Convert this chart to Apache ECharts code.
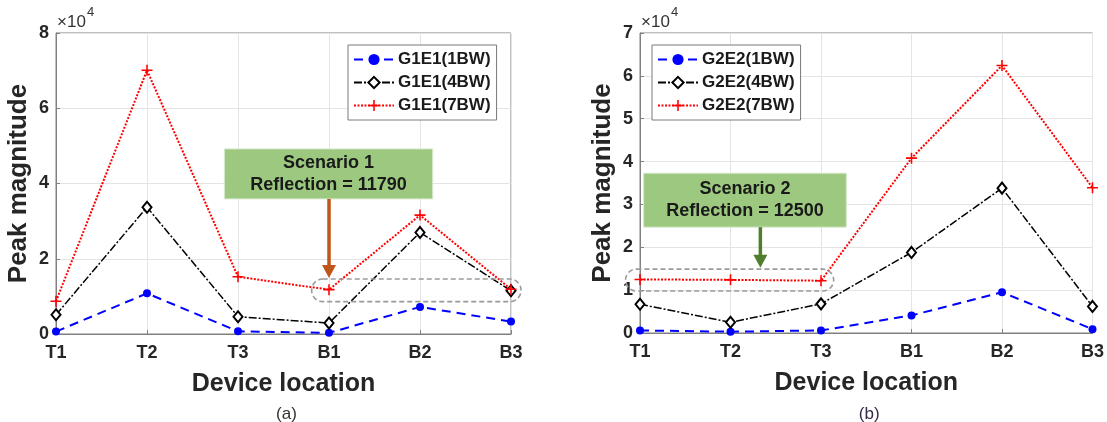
<!DOCTYPE html>
<html>
<head>
<meta charset="utf-8">
<script src="https://cdn.jsdelivr.net/npm/echarts@6/dist/echarts.min.js"></script>
<style>
  html, body { margin: 0; padding: 0; background: #ffffff; }
  #chart { width: 1107px; height: 422px; }
</style>
</head>
<body>
<div id="chart"></div>
<script>
// Device locations along the x axis (shared by both panels)
const categories = ['T1', 'T2', 'T3', 'B1', 'B2', 'B3'];

// Panel (a): G1E1 peak magnitudes
const g1e1_1bw = [650, 10800, 700, 300, 7200, 3300];
const g1e1_4bw = [5100, 33700, 4600, 2900, 27000, 11500];
const g1e1_7bw = [8700, 70100, 15200, 11790, 31600, 11900];

// Panel (b): G2E2 peak magnitudes
const g2e2_1bw = [600, 300, 600, 4100, 9500, 900];
const g2e2_4bw = [6700, 2500, 6800, 18800, 33800, 6200];
const g2e2_7bw = [12500, 12400, 12200, 40800, 62400, 33900];

// Y axis ticks (labels shown in units of 10^4)
const yTicksA = [0, 20000, 40000, 60000, 80000];
const yTicksB = [0, 10000, 20000, 30000, 40000, 50000, 60000, 70000];

// Annotation texts
const scenario1 = ['Scenario 1', 'Reflection = 11790'];
const scenario2 = ['Scenario 2', 'Reflection = 12500'];
const panelLabels = ['(a)', '(b)'];

const FONT = '"Liberation Sans", Arial, sans-serif';
const PLUS = 'path://M4.3,0H5.7V4.3H10V5.7H5.7V10H4.3V5.7H0V4.3H4.3Z';

const chart = echarts.init(document.getElementById('chart'), null, { renderer: 'canvas' });

function xAxisFor(gridIndex) {
  return {
    gridIndex: gridIndex,
    type: 'category',
    data: categories,
    boundaryGap: false,
    name: 'Device location',
    nameLocation: 'middle',
    nameGap: 38,
    nameTextStyle: { fontFamily: FONT, fontSize: 25, fontWeight: 'bold', color: '#262626' },
    axisLine: { show: true, lineStyle: { color: '#808080', width: 1 } },
    axisTick: { show: true, inside: true, length: 4, alignWithLabel: true, lineStyle: { color: '#808080' } },
    axisLabel: { fontFamily: FONT, fontSize: 18, fontWeight: 'bold', color: '#262626', margin: 10 },
    splitLine: { show: true, lineStyle: { color: '#e4e4e4', width: 1 } }
  };
}

function yAxisFor(gridIndex, ticks) {
  return {
    gridIndex: gridIndex,
    type: 'value',
    min: ticks[0],
    max: ticks[ticks.length - 1],
    interval: ticks[1] - ticks[0],
    name: 'Peak magnitude',
    nameLocation: 'middle',
    nameGap: 24,
    nameRotate: 90,
    nameTextStyle: { fontFamily: FONT, fontSize: 26, fontWeight: 'bold', color: '#262626' },
    axisLine: { show: true, lineStyle: { color: '#808080', width: 1 } },
    axisTick: { show: true, inside: true, length: 4, lineStyle: { color: '#808080' } },
    axisLabel: {
      fontFamily: FONT, fontSize: 18, fontWeight: 'bold', color: '#262626', margin: 7,
      formatter: v => String(v / 10000)
    },
    splitLine: { show: true, lineStyle: { color: '#e4e4e4', width: 1 } }
  };
}

function seriesSet(idx, names, d1, d4, d7) {
  return [
    {
      name: names[0], type: 'line', xAxisIndex: idx, yAxisIndex: idx, data: d1,
      symbol: 'circle', symbolSize: 8, z: 3,
      lineStyle: { color: '#0000ff', width: 2, type: [9, 6] },
      itemStyle: { color: '#0000ff' }
    },
    {
      name: names[1], type: 'line', xAxisIndex: idx, yAxisIndex: idx, data: d4,
      symbol: 'emptyDiamond', symbolSize: [9, 11], z: 4,
      lineStyle: { color: '#000000', width: 1.5, type: [8, 2, 2, 2] },
      itemStyle: { color: '#000000', borderColor: '#000000', borderWidth: 1.5 }
    },
    {
      name: names[2], type: 'line', xAxisIndex: idx, yAxisIndex: idx, data: d7,
      symbol: PLUS, symbolSize: 11, z: 5,
      lineStyle: { color: '#ff0000', width: 2, type: [2, 1.5] },
      itemStyle: { color: '#ff0000' }
    }
  ];
}

const namesA = ['G1E1(1BW)', 'G1E1(4BW)', 'G1E1(7BW)'];
const namesB = ['G2E2(1BW)', 'G2E2(4BW)', 'G2E2(7BW)'];

function legendFor(names, left) {
  return {
    data: names,
    orient: 'vertical',
    left: left,
    top: 45,
    itemWidth: 40,
    itemHeight: 14,
    itemGap: 6,
    padding: [6, 6, 6, 5],
    borderColor: '#7a7a7a',
    borderWidth: 1,
    backgroundColor: '#ffffff',
    selectedMode: false,
    textStyle: { fontFamily: FONT, fontSize: 17, fontWeight: 'bold', color: '#1a1a1a', padding: [0, 0, 0, -1] }
  };
}

chart.setOption({
  animation: false,
  backgroundColor: '#ffffff',
  grid: [
    { left: 56, top: 33, width: 455, height: 301, show: true, borderColor: '#808080', borderWidth: 1, backgroundColor: 'transparent' },
    { left: 640, top: 33, width: 455, height: 300, show: true, borderColor: '#808080', borderWidth: 1, backgroundColor: 'transparent' }
  ],
  xAxis: [xAxisFor(0), xAxisFor(1)],
  yAxis: [yAxisFor(0, yTicksA), yAxisFor(1, yTicksB)],
  legend: [legendFor(namesA, 348), legendFor(namesB, 652)],
  series: seriesSet(0, namesA, g1e1_1bw, g1e1_4bw, g1e1_7bw)
    .concat(seriesSet(1, namesB, g2e2_1bw, g2e2_4bw, g2e2_7bw))
});

// Data-space point to pixel for a panel; fractional category positions are
// interpolated between the first and last category ticks.
function px(panel, x, y) {
  const last = categories.length - 1;
  const p0 = chart.convertToPixel({ xAxisIndex: panel, yAxisIndex: panel }, [0, y]);
  const p1 = chart.convertToPixel({ xAxisIndex: panel, yAxisIndex: panel }, [last, y]);
  return [p0[0] + (p1[0] - p0[0]) * x / last, p0[1]];
}

function calloutBox(panel, x0, x1, yTop, yBottom, lines) {
  const a = px(panel, x0, yTop), b = px(panel, x1, yBottom);
  return [
    {
      type: 'rect', z: 20,
      shape: { x: a[0], y: a[1], width: b[0] - a[0], height: b[1] - a[1] },
      style: { fill: '#9cc97f', stroke: '#d9ead0', lineWidth: 1 }
    },
    {
      type: 'text', z: 21,
      x: (a[0] + b[0]) / 2, y: (a[1] + b[1]) / 2,
      style: {
        text: lines.join('\n'), align: 'center', verticalAlign: 'middle',
        fontFamily: FONT, fontSize: 18, fontWeight: 'bold', lineHeight: 22, fill: '#1a1a1a'
      }
    }
  ];
}

function arrow(panel, x, yFrom, yTo, color) {
  const a = px(panel, x, yFrom), b = px(panel, x, yTo);
  const headH = 13, headW = 7;
  return [
    {
      type: 'line', z: 22,
      shape: { x1: a[0], y1: a[1], x2: b[0], y2: b[1] - headH + 1 },
      style: { stroke: color, lineWidth: 3.5 }
    },
    {
      type: 'polygon', z: 22,
      shape: { points: [[b[0] - headW, b[1] - headH], [b[0] + headW, b[1] - headH], [b[0], b[1]]] },
      style: { fill: color }
    }
  ];
}

function dashedGroup(panel, x0, x1, yTop, yBottom) {
  const a = px(panel, x0, yTop), b = px(panel, x1, yBottom);
  return {
    type: 'rect', z: 15,
    shape: { x: a[0], y: a[1], width: b[0] - a[0], height: b[1] - a[1], r: 11 },
    style: { fill: 'none', stroke: '#9a9a9a', lineWidth: 1.6, lineDash: [5, 3] }
  };
}

function exponent(panel) {
  const ticks = panel === 0 ? yTicksA : yTicksB;
  const o = px(panel, 0, ticks[ticks.length - 1]);
  return [
    {
      type: 'text', z: 10, x: o[0] + 1, y: o[1] - 19,
      style: { text: '\u00d710', fontFamily: FONT, fontSize: 17, fill: '#333333', verticalAlign: 'top' }
    },
    {
      type: 'text', z: 10, x: o[0] + 31, y: o[1] - 27,
      style: { text: '4', fontFamily: FONT, fontSize: 13, fill: '#333333', verticalAlign: 'top' }
    }
  ];
}

function panelLabel(panel, text, color) {
  const a = px(panel, 0, 0), b = px(panel, categories.length - 1, 0);
  return {
    type: 'text', z: 10, x: (a[0] + b[0]) / 2 + 3, y: 414,
    style: { text: text, align: 'center', verticalAlign: 'middle', fontFamily: FONT, fontSize: 17, fill: color }
  };
}

const elements = []
  .concat(exponent(0), exponent(1))
  .concat([dashedGroup(0, 2.81, 5.11, 14600, 8600), dashedGroup(1, -0.16, 2.14, 14900, 9800)])
  .concat(calloutBox(0, 1.85, 4.14, 49200, 35900, scenario1))
  .concat(calloutBox(1, 0.04, 2.28, 37300, 24700, scenario2))
  .concat(arrow(0, 3, 35900, 14900, '#c0561a'))
  .concat(arrow(1, 1.33, 24700, 15200, '#4f7f2c'))
  .concat([panelLabel(0, panelLabels[0], '#333333'), panelLabel(1, panelLabels[1], '#3a2a4a')]);

chart.setOption({ graphic: { elements: elements } });
</script>
</body>
</html>
